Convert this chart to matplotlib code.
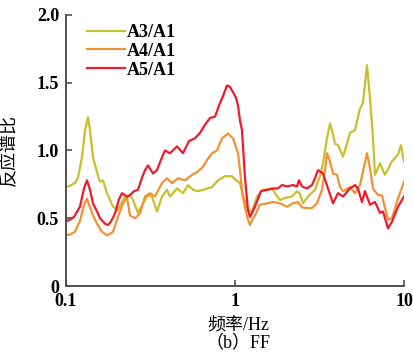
import matplotlib
matplotlib.use("Agg")
import matplotlib.pyplot as plt
from matplotlib.ticker import FixedLocator, FixedFormatter, NullLocator

plt.rcParams['font.family'] = ['Liberation Serif', 'Noto Sans CJK SC', 'DejaVu Sans']

# response spectral ratio vs frequency (Hz)
freq_a3 = [0.100, 0.1056, 0.113, 0.1178, 0.1243, 0.1296, 0.1349, 0.1387, 0.1445, 0.1526,
           0.1589, 0.1656, 0.1748, 0.1897, 0.203, 0.2234, 0.2392, 0.2491, 0.2667, 0.2935,
           0.3056, 0.3227, 0.3456, 0.3698, 0.396, 0.4125, 0.4538, 0.4925, 0.5272, 0.5643,
           0.604, 0.6467, 0.731, 0.7933, 0.8727, 0.9601, 1.0137, 1.071, 1.115, 1.194,
           1.261, 1.35, 1.464, 1.656, 1.725, 1.847, 1.976, 2.174, 2.328, 2.424,
           2.526, 2.704, 2.974, 3.184, 3.317, 3.503, 3.649, 3.801, 3.906, 4.069,
           4.357, 4.6, 4.792, 5.13, 5.49, 5.72, 6.04, 6.293, 6.556, 6.737,
           7.211, 7.72, 8.492, 9.216, 9.598, 10.0]
val_a3 = [0.73, 0.74, 0.76, 0.80, 0.95, 1.15, 1.245, 1.15, 0.95, 0.84,
          0.77, 0.78, 0.685, 0.585, 0.56, 0.66, 0.67, 0.635, 0.54, 0.635,
          0.67, 0.66, 0.55, 0.66, 0.71, 0.66, 0.72, 0.685, 0.745, 0.71,
          0.70, 0.71, 0.73, 0.78, 0.81, 0.81, 0.78, 0.76, 0.67, 0.56,
          0.55, 0.66, 0.71, 0.72, 0.685, 0.635, 0.65, 0.66, 0.70, 0.68,
          0.61, 0.66, 0.71, 0.81, 0.905, 1.09, 1.20, 1.12, 1.05, 1.04,
          0.955, 1.05, 1.13, 1.15, 1.31, 1.35, 1.63, 1.385, 1.09, 0.82,
          0.905, 0.82, 0.92, 0.97, 1.04, 0.92]

freq_a4 = [0.100, 0.1056, 0.113, 0.121, 0.1278, 0.1331, 0.1387, 0.1445, 0.1526, 0.1633,
           0.1748, 0.1822, 0.1897, 0.203, 0.2175, 0.2296, 0.2392, 0.256, 0.2741, 0.2935,
           0.3141, 0.3363, 0.3698, 0.396, 0.424, 0.46, 0.506, 0.5568, 0.604, 0.6467,
           0.683, 0.731, 0.7825, 0.8377, 0.909, 0.973, 1.042, 1.071, 1.1, 1.146,
           1.194, 1.227, 1.278, 1.313, 1.406, 1.546, 1.679, 1.847, 2.031, 2.204,
           2.36, 2.491, 2.667, 2.855, 3.056, 3.272, 3.409, 3.503, 3.649, 3.801,
           4.014, 4.182, 4.357, 4.792, 5.13, 5.49, 5.72, 6.04, 6.293, 6.556,
           7.02, 7.41, 7.72, 8.043, 8.492, 9.216, 10.0]
val_a4 = [0.375, 0.38, 0.40, 0.48, 0.60, 0.645, 0.58, 0.52, 0.46, 0.40,
          0.375, 0.385, 0.40, 0.51, 0.61, 0.655, 0.52, 0.50, 0.535, 0.66,
          0.685, 0.66, 0.76, 0.795, 0.76, 0.795, 0.78, 0.82, 0.845, 0.88,
          0.93, 0.98, 1.0, 1.09, 1.125, 1.09, 0.98, 0.855, 0.70, 0.58,
          0.49, 0.45, 0.50, 0.52, 0.60, 0.61, 0.62, 0.61, 0.585, 0.61,
          0.62, 0.58, 0.575, 0.575, 0.61, 0.71, 0.855, 0.98, 0.92, 0.83,
          0.82, 0.73, 0.70, 0.73, 0.685, 0.745, 0.845, 0.98, 0.87, 0.72,
          0.67, 0.67, 0.575, 0.49, 0.50, 0.645, 0.77]

freq_a5 = [0.100, 0.1056, 0.1115, 0.121, 0.1278, 0.1331, 0.1387, 0.1445, 0.1526, 0.1589,
           0.1701, 0.1772, 0.1846, 0.195, 0.2059, 0.2145, 0.2296, 0.2392, 0.2526, 0.2667,
           0.2817, 0.2935, 0.3056, 0.3272, 0.3456, 0.3698, 0.3853, 0.4125, 0.4538, 0.4925,
           0.5345, 0.58, 0.6208, 0.6645, 0.7114, 0.7615, 0.815, 0.849, 0.8968, 0.934,
           0.973, 1.0137, 1.042, 1.071, 1.1, 1.146, 1.194, 1.227, 1.313, 1.425,
           1.568, 1.679, 1.797, 1.897, 2.031, 2.204, 2.328, 2.391, 2.491, 2.667,
           2.855, 2.974, 3.098, 3.317, 3.551, 3.801, 4.069, 4.357, 4.792, 5.13,
           5.344, 5.643, 5.877, 6.293, 6.737, 7.211, 7.513, 8.043, 8.492, 9.216, 10.0]
val_a5 = [0.475, 0.49, 0.51, 0.585, 0.72, 0.78, 0.71, 0.61, 0.55, 0.50,
          0.46, 0.45, 0.475, 0.535, 0.64, 0.685, 0.66, 0.67, 0.70, 0.71,
          0.80, 0.855, 0.89, 0.83, 0.855, 0.95, 1.0, 0.98, 1.03, 0.98,
          1.07, 1.09, 1.13, 1.19, 1.24, 1.25, 1.35, 1.40, 1.48, 1.47,
          1.43, 1.39, 1.33, 1.22, 1.15, 0.80, 0.56, 0.51, 0.585, 0.70,
          0.71, 0.72, 0.72, 0.745, 0.735, 0.745, 0.735, 0.78, 0.735, 0.72,
          0.745, 0.795, 0.855, 0.83, 0.72, 0.61, 0.685, 0.66, 0.72, 0.745,
          0.72, 0.62, 0.70, 0.60, 0.62, 0.54, 0.55, 0.425, 0.475, 0.585, 0.66]

labels = ["A3/A1", "A4/A1", "A5/A1"]
colors = ["#c8c02c", "#f39232", "#f01a2c"]
x_ticks = [0.1, 1, 10]
x_tick_labels = ["0.1", "1", "10"]
y_ticks = [0, 0.5, 1.0, 1.5, 2.0]
y_tick_labels = ["0", "0.5", "1.0", "1.5", "2.0"]

fig = plt.figure(figsize=(4.14, 3.56), dpi=100)
ax = fig.add_axes([0.1594, 0.1966, 0.8164, 0.7613])

for f, v, lab, c in zip([freq_a3, freq_a4, freq_a5], [val_a3, val_a4, val_a5], labels, colors):
    ax.plot(f, v, color=c, lw=1.6, label=lab)

ax.set_xscale("log")
ax.set_xlim(0.1, 10)
ax.set_ylim(0, 2.0)
ax.xaxis.set_major_locator(FixedLocator(x_ticks))
ax.xaxis.set_major_formatter(FixedFormatter(x_tick_labels))
ax.xaxis.set_minor_locator(NullLocator())
ax.yaxis.set_major_locator(FixedLocator(y_ticks))
ax.yaxis.set_major_formatter(FixedFormatter(y_tick_labels))

for s in ["top", "right"]:
    ax.spines[s].set_visible(False)
for s in ["left", "bottom"]:
    ax.spines[s].set_color("#505050")
    ax.spines[s].set_linewidth(1.4)
ax.tick_params(direction="in", length=4, width=1.2, color="#505050",
               labelsize=13, pad=5)
for lbl in ax.get_xticklabels() + ax.get_yticklabels():
    lbl.set_fontweight("bold")

ax.set_ylabel("反应谱比", fontsize=13)
ax.yaxis.set_label_coords(-0.142, 0.5)
ax.set_xlabel("频率/Hz", fontsize=13)
ax.xaxis.set_label_coords(0.51, -0.148)
ax.xaxis.label.set_va("center")
ax.text(0.51, -0.212, "（b）FF", transform=ax.transAxes, ha="center", va="center",
        fontsize=13)

ax.legend(loc="upper left", bbox_to_anchor=(0.02, 1.02), frameon=False,
          prop={"size": 13, "weight": "bold"},
          handlelength=2.1, handletextpad=0.1, labelspacing=0.1, borderpad=0.3)

fig.savefig("out.png", dpi=100)
